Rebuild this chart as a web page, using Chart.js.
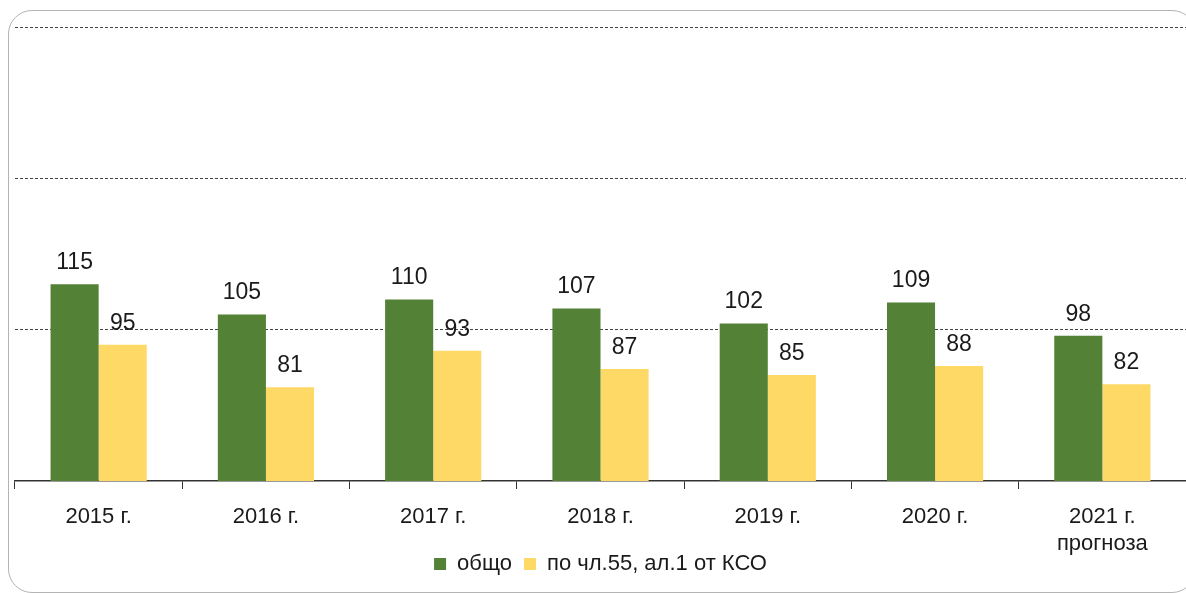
<!DOCTYPE html>
<html>
<head>
<meta charset="utf-8">
<script src="https://cdn.jsdelivr.net/npm/chart.js@4"></script>
<style>
    html, body { margin: 0; padding: 0; background: #fff; }
    #wrap { position: relative; width: 1186px; height: 593px; overflow: hidden; }
    #frame {
        position: absolute; left: 8px; top: 10px; width: 1188px; height: 583px;
        border: 1.5px solid #b4b4b4; border-radius: 24px; box-sizing: border-box;
    }
    canvas { position: absolute; left: 0; top: 0; }
</style>
</head>
<body>
<div id="wrap">
    <div id="frame"></div>
    <canvas id="barChart" width="1186" height="593"></canvas>
</div>
<script>
const categories = ['2015 г.', '2016 г.', '2017 г.', '2018 г.', '2019 г.', '2020 г.', ['2021 г.', 'прогноза']];
const totalValues = [115, 105, 110, 107, 102, 109, 98];
const art55Values = [95, 81, 93, 87, 85, 88, 82];
const seriesNames = ['общо', 'по чл.55, ал.1 от КСО'];

const FONT = '"Liberation Sans", Arial, sans-serif';

// value labels above each bar
const valueLabels = {
    id: 'valueLabels',
    afterDatasetsDraw(chart) {
        const ctx = chart.ctx;
        ctx.save();
        ctx.font = '23px ' + FONT;
        ctx.fillStyle = '#1a1a1a';
        ctx.textAlign = 'center';
        ctx.textBaseline = 'bottom';
        chart.data.datasets.forEach((ds, i) => {
            chart.getDatasetMeta(i).data.forEach((bar, j) => {
                ctx.fillText(ds.data[j], bar.x, bar.y - 10);
            });
        });
        ctx.restore();
    }
};

// x labels overlap the legend band a little, so don't clip them to the axis box
const unclipLabels = {
    id: 'unclipLabels',
    afterLayout(chart) {
        chart.scales.x.bottom = chart.height;
    }
};

let barChart;

function initChart() {
    const ctx = document.getElementById('barChart').getContext('2d');

    barChart = new Chart(ctx, {
        type: 'bar',
        data: {
            labels: categories,
            datasets: [{
                label: seriesNames[0],
                data: totalValues,
                backgroundColor: '#538135'
            }, {
                label: seriesNames[1],
                data: art55Values,
                backgroundColor: '#ffd966'
            }]
        },
        options: {
            responsive: false,
            animation: false,
            layout: { padding: { left: 15, right: 0, top: 27, bottom: 8 } },
            datasets: {
                bar: { categoryPercentage: 0.575, barPercentage: 1 }
            },
            plugins: {
                legend: {
                    position: 'bottom',
                    labels: {
                        color: '#1a1a1a',
                        font: { family: FONT, size: 22 },
                        boxWidth: 12,
                        boxHeight: 12,
                        padding: 12
                    }
                },
                tooltip: { enabled: false }
            },
            scales: {
                y: {
                    min: 50,
                    max: 200,
                    ticks: { stepSize: 50, display: false },
                    afterFit(axis) { axis.width = 0; },
                    grid: {
                        color: (c) => c.tick && c.tick.value === 50 ? 'rgba(0,0,0,0)' : '#444',
                        lineWidth: 1,
                        drawTicks: false
                    },
                    border: { display: false, dash: [3, 2] }
                },
                x: {
                    offset: true,
                    afterFit(axis) { axis.height = 60; },
                    ticks: {
                        color: '#1a1a1a',
                        font: { family: FONT, size: 22 },
                        padding: 15,
                        maxRotation: 0
                    },
                    grid: {
                        offset: true,
                        drawOnChartArea: false,
                        tickLength: 8,
                        color: '#333'
                    },
                    border: { display: true, color: '#333', width: 1.5 }
                }
            }
        },
        plugins: [valueLabels, unclipLabels]
    });
}

document.addEventListener('DOMContentLoaded', initChart);
</script>
</body>
</html>
